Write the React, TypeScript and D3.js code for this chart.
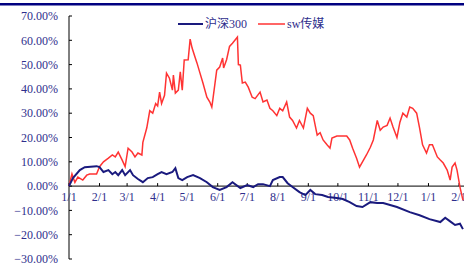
import React from "react";
import * as d3 from "d3";

// 沪深300 cumulative return (%)
const hsDates = [
  "2010-01-01", "2010-01-05", "2010-01-12", "2010-01-17", "2010-01-29", "2010-02-01", "2010-02-05",
  "2010-02-10", "2010-02-14", "2010-02-17", "2010-02-20", "2010-02-24", "2010-02-27", "2010-03-04",
  "2010-03-07", "2010-03-12", "2010-03-17", "2010-03-22", "2010-03-27", "2010-04-01", "2010-04-05",
  "2010-04-10", "2010-04-16", "2010-04-19", "2010-04-22", "2010-04-26", "2010-05-01", "2010-05-07",
  "2010-05-14", "2010-05-21", "2010-05-27", "2010-06-03", "2010-06-10", "2010-06-16", "2010-06-24",
  "2010-07-01", "2010-07-07", "2010-07-12", "2010-07-17", "2010-07-24", "2010-07-27", "2010-08-03",
  "2010-08-06", "2010-08-11", "2010-08-16", "2010-08-23", "2010-08-29", "2010-09-03", "2010-09-08",
  "2010-09-15", "2010-09-21", "2010-09-30", "2010-10-06", "2010-10-13", "2010-10-20", "2010-10-26",
  "2010-11-03", "2010-11-10", "2010-11-16", "2010-11-23", "2010-11-30", "2010-12-13", "2010-12-23",
  "2011-01-02", "2011-01-13", "2011-01-18", "2011-01-23", "2011-01-28", "2011-02-02", "2011-02-05",
];
const hsValues = [
  0, 3.3, 6.6, 7.8, 8.2, 7.8, 5.8,
  6.6, 4.9, 5.8, 4.5, 6.6, 4.5, 6.6,
  4.5, 2.9, 1.6, 3.3, 3.7, 4.9, 5.8,
  4.9, 5.8, 7.4, 3.3, 2.5, 3.7, 4.5,
  3.3, 1.6, -0.4, -1.6, -0.4, 1.6, -0.8,
  0.4, -0.4, 0.8, 0.8, 0, 2.5, 3.7,
  3.7, 1.2, -0.4, -2.5, -3.7, -1.6, -3.3,
  -3.7, -4.5, -4.9, -5.3, -6.6, -8.2, -8.6,
  -6.6, -7, -7, -7.8, -8.6, -10.7, -12,
  -13.6, -14.8, -13, -14.5, -16, -15.5, -17.7,
];

// sw传媒 cumulative return (%)
const swDates = [
  "2010-01-01", "2010-01-04", "2010-01-07", "2010-01-10", "2010-01-15", "2010-01-19", "2010-01-22",
  "2010-01-29", "2010-02-01", "2010-02-05", "2010-02-10", "2010-02-14", "2010-02-17", "2010-02-20",
  "2010-02-24", "2010-02-27", "2010-03-02", "2010-03-06", "2010-03-09", "2010-03-12", "2010-03-16",
  "2010-03-17", "2010-03-21", "2010-03-24", "2010-03-27", "2010-03-30", "2010-04-01", "2010-04-03",
  "2010-04-05", "2010-04-08", "2010-04-10", "2010-04-13", "2010-04-16", "2010-04-17", "2010-04-19",
  "2010-04-22", "2010-04-24", "2010-04-26", "2010-04-28", "2010-05-02", "2010-05-04", "2010-05-06",
  "2010-05-09", "2010-05-11", "2010-05-14", "2010-05-17", "2010-05-21", "2010-05-24", "2010-05-26",
  "2010-05-27", "2010-05-31", "2010-06-03", "2010-06-06", "2010-06-07", "2010-06-10", "2010-06-13",
  "2010-06-16", "2010-06-21", "2010-06-22", "2010-06-24", "2010-06-26", "2010-06-29", "2010-07-02",
  "2010-07-06", "2010-07-09", "2010-07-14", "2010-07-17", "2010-07-21", "2010-07-24", "2010-07-27",
  "2010-07-31", "2010-08-03", "2010-08-06", "2010-08-10", "2010-08-13", "2010-08-16", "2010-08-20",
  "2010-08-23", "2010-08-27", "2010-08-31", "2010-09-03", "2010-09-06", "2010-09-10", "2010-09-13",
  "2010-09-16", "2010-09-20", "2010-09-23", "2010-09-25", "2010-09-30", "2010-10-10", "2010-10-13",
  "2010-10-16", "2010-10-20", "2010-10-23", "2010-10-26", "2010-10-30", "2010-11-03", "2010-11-06",
  "2010-11-10", "2010-11-13", "2010-11-16", "2010-11-20", "2010-11-23", "2010-11-26", "2010-11-30",
  "2010-12-03", "2010-12-06", "2010-12-10", "2010-12-13", "2010-12-16", "2010-12-20", "2010-12-23",
  "2010-12-26", "2010-12-30", "2011-01-02", "2011-01-05", "2011-01-10", "2011-01-13", "2011-01-16",
  "2011-01-20", "2011-01-23", "2011-01-25", "2011-01-28", "2011-01-30", "2011-02-02", "2011-02-05",
];
const swValues = [
  0, 5, 1.5, 3.7, 2.5, 4.5, 5,
  5, 8, 10, 11.5, 12.8, 12, 14,
  10.7, 8, 15.6, 14, 12, 13.6, 12.8,
  18, 24, 31, 30, 34, 33, 38.7,
  34, 37.4, 46.5, 44.4, 39.5, 45.7, 38.3,
  39.5, 47, 39.5, 51.9, 52, 60.5, 56.8,
  53, 50.6, 46.5, 42.4, 36.6, 34.6, 32.5,
  35.4, 47.7, 49, 52.7, 48.6, 52, 57.5,
  58.8, 61.3, 50, 49.8, 42.4, 42.8, 40.7,
  36.6, 36, 38.7, 34.6, 35.4, 32, 31,
  29, 32, 31, 34.6, 28.4, 27, 23.9,
  27, 23.9, 32, 30, 29, 21, 22,
  19, 17, 15.6, 19.8, 20.6, 20.6, 19,
  15.6, 11.5, 7.8, 10, 12.8, 16, 19,
  27, 23, 24.3, 25, 28, 24.3, 20,
  26.3, 30, 28.4, 32.5, 32, 30, 23.9,
  17, 13.6, 17, 17, 12, 10.7, 9.5,
  6.6, 2.5, 7.8, 9.5, 6.6, -0.4, -5.8,
];

const yTicks = [70, 60, 50, 40, 30, 20, 10, 0, -10, -20, -30];
const monthTicks = [
  "2010-01-01", "2010-02-01", "2010-03-01", "2010-04-01", "2010-05-01", "2010-06-01", "2010-07-01",
  "2010-08-01", "2010-09-01", "2010-10-01", "2010-11-01", "2010-12-01", "2011-01-01", "2011-02-01",
];

const W = 464;
const H = 266;
const NAVY = "#1a1a7e";
const RED = "#ff3333";
const LABEL = "#2e2e8c";
const FONT = "'Liberation Serif', 'Times New Roman', 'Noto Sans CJK SC', serif";

export default function App() {
  const parse = d3.timeParse("%Y-%m-%d");
  const x = d3.scaleTime()
    .domain([parse("2010-01-01")!, parse("2011-02-01")!])
    .range([69, 459]);
  const y = d3.scaleLinear().domain([-30, 70]).range([259, 16]);

  const line = d3.line<[Date, number]>()
    .x(d => x(d[0]))
    .y(d => y(d[1]));

  const hs = hsDates.map((d, i) => [parse(d)!, hsValues[i]] as [Date, number]);
  const sw = swDates.map((d, i) => [parse(d)!, swValues[i]] as [Date, number]);
  const fmt = d3.format(".2f");

  return (
    <svg width={W} height={H} style={{ position: "absolute", left: 0, top: 0, background: "#fff" }}>
      <rect x={0} y={3} width={W} height={2.5} fill="#000080" />

      {/* y axis */}
      <line x1={69} x2={69} y1={y(70)} y2={y(-30)} stroke="#000" strokeWidth={1} />
      {yTicks.map(t => (
        <g key={t}>
          <line x1={69} x2={72} y1={y(t)} y2={y(t)} stroke="#000" />
          <text x={58} y={y(t)} dy="0.35em" textAnchor="end" fontSize={12}
            fontFamily={FONT} fill={LABEL}>{fmt(t) + "%"}</text>
        </g>
      ))}

      {/* x axis on zero line */}
      <line x1={69} x2={W} y1={y(0)} y2={y(0)} stroke="#000" strokeWidth={1} />
      {monthTicks.map(m => {
        const d = parse(m)!;
        return (
          <g key={m}>
            <line x1={x(d)} x2={x(d)} y1={y(0)} y2={y(0) - 3} stroke="#000" />
            <text x={x(d)} y={y(0) + 15} textAnchor="middle" fontSize={12}
              fontFamily={FONT} fill={LABEL}>{d3.timeFormat("%-m/%-d")(d)}</text>
          </g>
        );
      })}

      <path d={line(sw) ?? ""} fill="none" stroke={RED} strokeWidth={1.5} />
      <path d={line(hs) ?? ""} fill="none" stroke={NAVY} strokeWidth={2} />

      {/* legend */}
      <line x1={178} x2={203} y1={24} y2={24} stroke={NAVY} strokeWidth={2} />
      <text x={205} y={24} dy="0.35em" fontSize={12} fontFamily={FONT} fill={LABEL}>沪深300</text>
      <line x1={258} x2={285} y1={24} y2={24} stroke={RED} strokeWidth={1.5} />
      <text x={287} y={24} dy="0.35em" fontSize={12} fontFamily={FONT} fill={LABEL}>sw传媒</text>
    </svg>
  );
}
